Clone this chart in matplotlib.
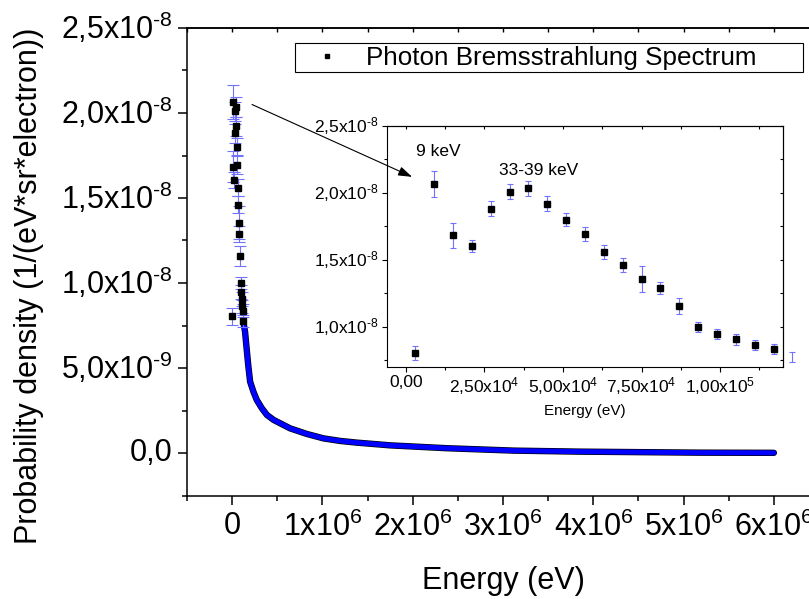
import numpy as np
import matplotlib.pyplot as plt
from matplotlib.ticker import FixedLocator, FixedFormatter, MultipleLocator
from matplotlib.lines import Line2D

plt.rcParams['font.family'] = ['Liberation Sans', 'DejaVu Sans']
plt.rcParams['mathtext.fontset'] = 'custom'
plt.rcParams['mathtext.rm'] = 'Liberation Sans'
plt.rcParams['mathtext.it'] = 'Liberation Sans:italic'
plt.rcParams['mathtext.bf'] = 'Liberation Sans:bold'

# low energy bins (keV) -> probability density (x1e-8), errors (x1e-8)
low_e = np.array([3, 9, 15, 21, 27, 33, 39, 45, 51, 57, 63, 69, 75, 81, 87,
                  93, 99, 105, 111, 117, 123])
low_v = np.array([0.805, 2.067, 1.685, 1.604, 1.881, 2.010, 2.034, 1.921, 1.800,
                  1.696, 1.559, 1.461, 1.355, 1.290, 1.158, 1.000, 0.946, 0.906,
                  0.864, 0.837, 0.776])
low_err = np.array([0.05, 0.10, 0.093, 0.048, 0.056, 0.056, 0.058, 0.054, 0.05,
                    0.052, 0.05, 0.05, 0.096, 0.046, 0.06, 0.038, 0.04, 0.04,
                    0.038, 0.037, 0.035])

# rest of the spectrum (keV) -> density (x1e-9)
tail_e = np.array([123, 143, 162, 180, 199, 236, 273, 329, 385, 458, 642, 827,
                   1012, 1196, 1381, 1566, 1750, 2385, 3120, 3850, 5180, 6000])
tail_v = np.array([7.76, 7.13, 6.06, 5.08, 4.2, 3.6, 3.12, 2.63, 2.24, 1.95,
                   1.45, 1.12, 0.86, 0.71, 0.61, 0.53, 0.45, 0.28, 0.14, 0.08,
                   0.02, 0.01])

main_xticks = [0, 1e6, 2e6, 3e6, 4e6, 5e6, 6e6]
main_xlabels = ['0', '1x10$^6$', '2x10$^6$', '3x10$^6$', '4x10$^6$', '5x10$^6$', '6x10$^6$']
main_yticks = [0, 5e-9, 1e-8, 1.5e-8, 2e-8, 2.5e-8]
main_ylabels = ['0,0', r'5,0x10$^{\text{-9}}$', r'1,0x10$^{\text{-8}}$', r'1,5x10$^{\text{-8}}$',
                r'2,0x10$^{\text{-8}}$', r'2,5x10$^{\text{-8}}$']
ins_xticks = [0, 2.5e4, 5e4, 7.5e4, 1e5]
ins_xlabels = ['0,00', '2,50x10$^4$', '5,00x10$^4$', '7,50x10$^4$', '1,00x10$^5$']
ins_yticks = [1e-8, 1.5e-8, 2e-8, 2.5e-8]
ins_ylabels = [r'1,0x10$^{\text{-8}}$', r'1,5x10$^{\text{-8}}$', r'2,0x10$^{\text{-8}}$',
               r'2,5x10$^{\text{-8}}$']

W, H = 809, 599
fig = plt.figure(figsize=(W / 100, H / 100), dpi=100)

# main axes (right edge falls outside the picture, as in the original)
ax = fig.add_axes([187 / W, 1 - 495.5 / H, (819 - 187) / W, (495.5 - 28) / H])
ax.plot(tail_e * 1e3, tail_v * 1e-9, color='black', lw=4.6, solid_capstyle='round', zorder=2)
ax.plot(tail_e * 1e3, tail_v * 1e-9, color='#0000ff', lw=3.6, solid_capstyle='round', zorder=3)
ax.errorbar(low_e * 1e3, low_v * 1e-8, yerr=low_err * 1e-8, fmt='s', color='black',
            ms=4.5, ecolor='#7272ff', elinewidth=0.8, capsize=4, capthick=0.8, zorder=4)
ax.set_xlim(-0.5e6, 6.5e6)
ax.set_ylim(-2.5e-9, 2.5e-8)
ax.xaxis.set_major_locator(FixedLocator(main_xticks))
ax.xaxis.set_major_formatter(FixedFormatter(main_xlabels))
ax.xaxis.set_minor_locator(MultipleLocator(0.5e6))
ax.yaxis.set_major_locator(FixedLocator(main_yticks))
ax.yaxis.set_major_formatter(FixedFormatter(main_ylabels))
ax.yaxis.set_minor_locator(MultipleLocator(2.5e-9))
ax.tick_params(which='both', direction='out', labelsize=22, width=1.1)
ax.tick_params(which='major', length=6.5)
ax.tick_params(which='minor', length=3.5)
ax.tick_params(axis='x', pad=5)
ax.tick_params(axis='y', pad=4)
for lab in ax.get_yticklabels():
    lab.set_va('center')
for sp in ax.spines.values():
    sp.set_linewidth(1.1)
top = ax.secondary_xaxis('top')
top.xaxis.set_major_locator(MultipleLocator(0.5e6))
top.tick_params(direction='in', length=3, width=1.0, labeltop=False)
top.spines['top'].set_linewidth(1.1)

ax.set_xlabel('Energy (eV)', fontsize=22)
ax.xaxis.set_label_coords(0.5, -0.15)
ax.set_ylabel('Probability density (1/(eV*sr*electron))', fontsize=22)
ax.yaxis.set_label_coords(-0.226, 0.448)

proxy = Line2D([], [], ls='none', marker='s', color='black', ms=3.5)
leg = ax.legend(handles=[proxy], labels=['Photon Bremsstrahlung Spectrum'],
                loc='upper left', bbox_to_anchor=(295 / W, 1 - 78 / H, 508 / W, 35 / H),
                bbox_transform=fig.transFigure, mode='expand', borderaxespad=0,
                fancybox=False, edgecolor='black', framealpha=1, fontsize=18.7,
                borderpad=0.1, handlelength=2.3, handletextpad=0.35)
leg.get_frame().set_linewidth(0.8)

# inset
axins = fig.add_axes([387 / W, 1 - 367 / H, (783 - 387) / W, (367 - 126) / H])
cont = axins.errorbar(low_e * 1e3, low_v * 1e-8, yerr=low_err * 1e-8, fmt='none',
                      ecolor='#7272ff', elinewidth=0.8, capsize=2.5, capthick=0.8)
for art in list(cont[1]) + list(cont[2]):
    art.set_clip_on(False)
axins.plot(low_e * 1e3, low_v * 1e-8, 's', color='black', ms=5)
axins.set_xlim(-6000, 120000)
axins.set_ylim(0.7e-8, 2.5e-8)
axins.xaxis.set_major_locator(FixedLocator(ins_xticks))
axins.xaxis.set_major_formatter(FixedFormatter(ins_xlabels))
axins.xaxis.set_minor_locator(MultipleLocator(1.25e4))
axins.yaxis.set_major_locator(FixedLocator(ins_yticks))
axins.yaxis.set_major_formatter(FixedFormatter(ins_ylabels))
axins.yaxis.set_minor_locator(MultipleLocator(0.25e-8))
axins.tick_params(which='both', direction='out', labelsize=12.5, width=0.8)
axins.tick_params(which='major', length=3.5, pad=2.5)
axins.tick_params(which='minor', length=2)
for lab in axins.get_yticklabels():
    lab.set_va('center')
for sp in axins.spines.values():
    sp.set_linewidth(0.8)
itop = axins.secondary_xaxis('top')
itop.xaxis.set_major_locator(MultipleLocator(1.25e4))
itop.tick_params(direction='in', length=2.5, width=0.8, labeltop=False)
iright = axins.secondary_yaxis('right')
iright.yaxis.set_major_locator(MultipleLocator(0.25e-8))
iright.tick_params(direction='in', length=2.5, width=0.8, labelright=False)
axins.set_xlabel('Energy (eV)', fontsize=11, labelpad=5)

axins.text(10300, 2.306e-8, '9 keV', fontsize=12.5, ha='center', va='center')
axins.text(42100, 2.165e-8, '33-39 keV', fontsize=12.5, ha='center', va='center')
axins.annotate('', xy=(2000, 2.12e-8), xycoords='data',
               xytext=(0.22e6, 2.05e-8), textcoords=ax.transData,
               arrowprops=dict(arrowstyle='-|>,head_length=0.6,head_width=0.2',
                               color='black', lw=0.8, mutation_scale=14,
                               shrinkA=0, shrinkB=0),
               annotation_clip=False)

fig.savefig('out.png', dpi=100)
